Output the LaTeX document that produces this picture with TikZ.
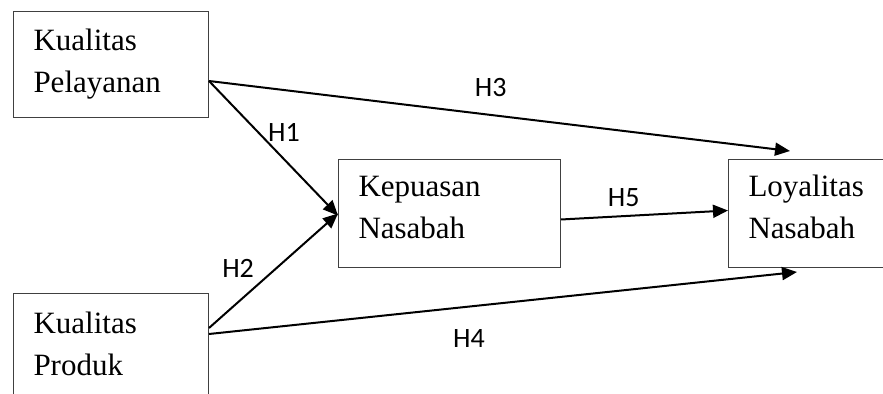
\documentclass[tikz,border=0pt]{standalone}
\usepackage{fontspec}
\setmainfont{Liberation Serif}
\newfontfamily\hfont{Carlito}
\usetikzlibrary{arrows.meta}
\begin{document}
\begin{tikzpicture}[x=0.5pt,y=-0.5pt,
  box/.style={draw=black!75, line width=0.5pt, anchor=north west, align=left,
    inner xsep=10pt, inner ysep=2pt, font=\fontsize{15.5}{21}\selectfont},
  conn/.style={line width=1pt, -{Triangle[length=7.5pt,width=6.5pt]}},
  hyp/.style={font=\hfont\fontsize{14}{16}\selectfont, inner sep=0pt}]
\useasboundingbox (0,0) rectangle (883,394);
\begin{scope}
\clip (0,0) rectangle (883,394);
\node[box, text width=77.5pt, minimum height=53pt] (kp) at (13,11) {Kualitas\\Pelayanan};
\node[box, text width=77.5pt, minimum height=56.3pt] (kpr) at (13,293) {Kualitas\\Produk\strut};
\node[box, text width=91pt, minimum height=54pt] (kn) at (338,159) {Kepuasan\\Nasabah\strut};
\node[box, text width=91pt, minimum height=54pt] (ln) at (728,159) {Loyalitas\\Nasabah\strut};

\coordinate (kpout) at ([yshift=-35pt]kp.north east);
\coordinate (kprout) at ([yshift=-17.5pt]kpr.north east);
\coordinate (kprout2) at ([yshift=-20.5pt]kpr.north east);
\coordinate (lntop) at ([xshift=31pt,yshift=4pt]ln.north west);
\coordinate (lnbot) at ([xshift=34.5pt,yshift=-2pt]ln.south west);

\draw[conn] (kpout) -- ([yshift=-1pt]kn.west) node[hyp, pos=0.38, xshift=13pt] (h1) {H1};
\draw[conn] (kprout) -- (kn.west) node[hyp, pos=0.52, xshift=-19pt] (h2) {H2};
\draw[conn] (kpout) -- (lntop) node[hyp, pos=0.485, yshift=13.5pt] (h3) {H3};
\draw[conn] (kprout2) -- (lnbot) node[hyp, pos=0.442, yshift=-16pt] (h4) {H4};
\draw[conn] ([yshift=-3pt]kn.east) -- ([yshift=1.5pt]ln.west) node[hyp, pos=0.375, yshift=9.3pt] (h5) {H5};
\end{scope}
\end{tikzpicture}
\end{document}
